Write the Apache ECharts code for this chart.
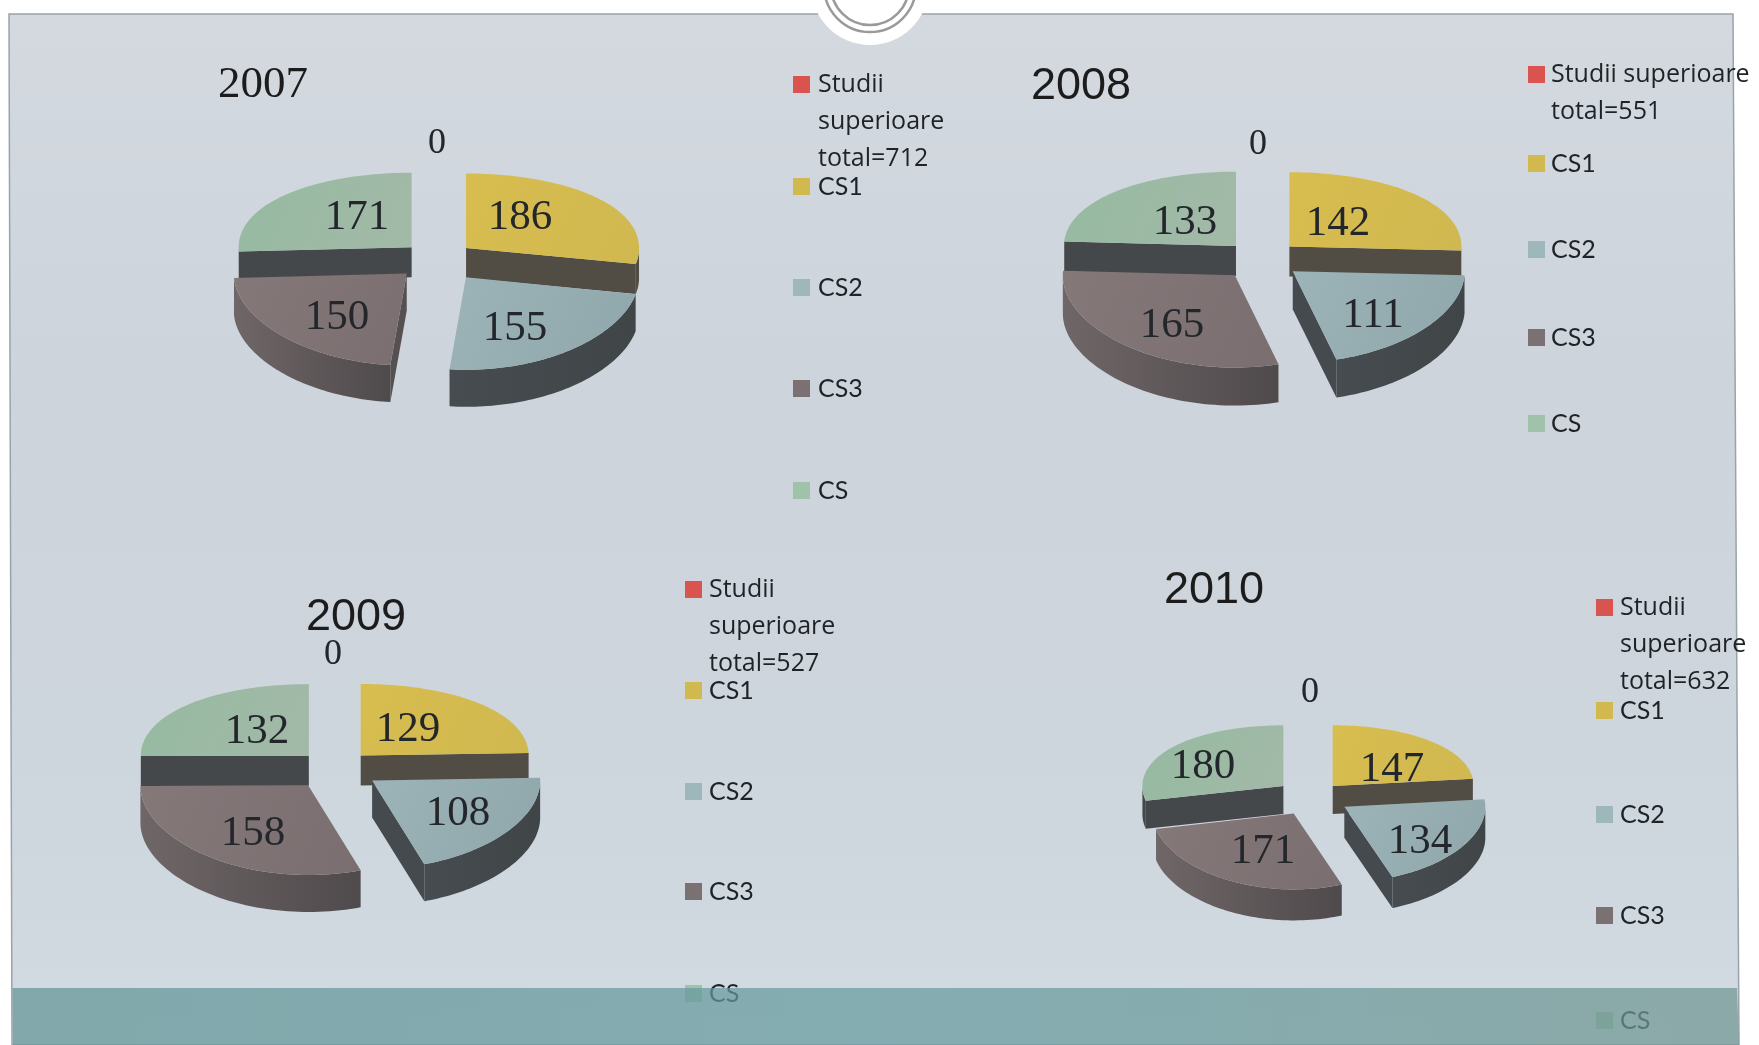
<!DOCTYPE html>
<html>
<head>
<meta charset="utf-8">
<script src="https://cdn.jsdelivr.net/npm/echarts@6/dist/echarts.min.js"></script>
<style>html,body{margin:0;padding:0;background:#fff}#c{width:1759px;height:1045px}</style>
</head>
<body>
<div id="c"></div>
<script>
// ---------- data ----------
const categories = ['Studii superioare', 'CS1', 'CS2', 'CS3', 'CS'];
const years = ['2007', '2008', '2009', '2010'];
const values2007 = [0, 186, 155, 150, 171];
const values2008 = [0, 142, 111, 165, 133];
const values2009 = [0, 129, 108, 158, 132];
const values2010 = [0, 147, 134, 171, 180];
const firstLegend2007 = 'Studii\nsuperioare\ntotal=712';
const firstLegend2008 = 'Studii superioare\ntotal=551';
const firstLegend2009 = 'Studii\nsuperioare\ntotal=527';
const firstLegend2010 = 'Studii\nsuperioare\ntotal=632';

// ---------- layout & style (no data in here) ----------
const allValues = [values2007, values2008, values2009, values2010];
const allFirstLegends = [firstLegend2007, firstLegend2008, firstLegend2009, firstLegend2010];
const pieLayout = [
  {cx:438, cy:259, rx:173, ry:83, dBack:30, dFront:37, explode:[0,.21,.27,.25,.21],
   labels:[[-1,-115],[82,-41],[77,70],[-101,59],[-81,-41]]},
  {cx:1262, cy:259, rx:172, ry:83, dBack:30, dFront:38, explode:[0,.22,.23,.25,.22],
   labels:[[-4,-114],[76,-35],[111,57],[-90,67],[-77,-36]]},
  {cx:335, cy:768, rx:168, ry:80, dBack:30, dFront:37, explode:[0,.22,.27,.27,.22],
   labels:[[-2,-113],[73,-38],[123,46],[-82,66],[-78,-36]]},
  {cx:1312, cy:797, rx:141, ry:68, dBack:28, dFront:31, explode:[0,.22,.27,.27,.26],
   labels:[[-2,-104],[80,-27],[108,45],[-49,55],[-109,-30]]}
];
const titleLayout = [
  {x:263, y:85, font:'"Liberation Serif"', size:45},
  {x:1081, y:87, font:'"Liberation Sans"', size:45},
  {x:356, y:618, font:'"Liberation Sans"', size:45},
  {x:1214, y:591, font:'"Liberation Sans"', size:45}
];
const legendLayout = [
  {sx:793, tx:818, ys:[84,186,287,388,490]},
  {sx:1528, tx:1551, ys:[74,163,249,337,423]},
  {sx:685, tx:709, ys:[589,690,791,891,993]},
  {sx:1596, tx:1620, ys:[607,710,814,915,1020]}
];
const persp = 0.08;
const swatch = ['#d9534f', '#d1b94f', '#9db7bb', '#7b7173', '#a0c2aa'];
const topFill = [null,
  ['#d8bd4f','#d0b850'],
  ['#9cb3b7','#8fa7ab'],
  ['#857879','#7a6e70'],
  ['#95baa0','#a3b9a8']];
const rimFill = [null, ['#524d44','#524d44'], ['#474c50','#404548'], ['#6f6667','#4f4a4c'], ['#45484a','#45484a']];
const cutFill = [null, '#524d44', '#454a4e', '#565051', '#45484a'];

function makeRenderItem(pieIndex) {
  const L = pieLayout[pieIndex];
  const vals = allValues[pieIndex];
  const total = vals.reduce(function (a, b) { return a + b; }, 0);
  function project(px, py, d) {
    return [L.cx + L.rx * px, L.cy + L.ry * py * (1 + persp * py) + (d || 0)];
  }
  return function (params, api) {
    const i = params.dataIndex;
    const v = api.value(0);
    let before = 0;
    for (let j = 0; j < i; j++) before += vals[j];
    const a0 = before / total * Math.PI * 2;
    const a1 = (before + v) / total * Math.PI * 2;
    const mid = (a0 + a1) / 2;
    const bx = Math.sin(mid), by = -Math.cos(mid);
    const ox = L.explode[i] * bx, oy = L.explode[i] * by;
    const order = Math.round((by + 1) * 50);
    const depth = by < 0 ? L.dBack : L.dFront;
    const label = {
      type: 'text', z2: 5000,
      style: {
        text: String(v), x: L.cx + L.labels[i][0], y: L.cy + L.labels[i][1],
        align: 'center', verticalAlign: 'middle',
        font: (i === 0 ? '36px' : '43px') + ' "Liberation Serif", serif', fill: '#23262a'
      }
    };
    if (v === 0) return {type: 'group', children: [label]};

    const children = [];
    const steps = 60;
    const arc = [];
    for (let s = 0; s <= steps; s++) {
      const a = a0 + (a1 - a0) * s / steps;
      arc.push([ox + Math.sin(a), oy - Math.cos(a), a]);
    }
    // radial cut walls
    [a0, a1].forEach(function (a, k) {
      const ex = Math.sin(a), ey = -Math.cos(a);
      const cross = ex * by - ey * bx;
      if ((ex >= 0 ? 1 : -1) * cross < 0) {
        const A = project(ox, oy), B = project(ox + ex, oy + ey);
        const B2 = project(ox + ex, oy + ey, depth), A2 = project(ox, oy, depth);
        children.push({type: 'polygon', z2: order * 10 + k,
          shape: {points: [A, B, B2, A2]}, style: {fill: cutFill[i]}});
      }
    });
    // outer rim, front half only
    const front = arc.filter(function (p) { return p[2] >= Math.PI / 2 && p[2] <= Math.PI * 1.5; });
    if (front.length > 1) {
      const up = front.map(function (p) { return project(p[0], p[1]); });
      const down = front.map(function (p) { return project(p[0], p[1], depth); }).reverse();
      children.push({type: 'polygon', z2: order * 10 + 2,
        shape: {points: up.concat(down)},
        style: {fill: new echarts.graphic.LinearGradient(0, 0, 1, 0, [
          {offset: 0, color: rimFill[i][0]}, {offset: 1, color: rimFill[i][1]}])}});
    }
    // top face
    const facePts = [project(ox, oy)].concat(arc.map(function (p) { return project(p[0], p[1]); }));
    children.push({type: 'polygon', z2: order * 10 + 3,
      shape: {points: facePts},
      style: {fill: new echarts.graphic.LinearGradient(0, 0, 1, 1, [
        {offset: 0, color: topFill[i][0]}, {offset: 1, color: topFill[i][1]}])}});
    children.push(label);
    return {type: 'group', children: children};
  };
}

const series = years.map(function (year, p) {
  return {
    type: 'custom', name: year, coordinateSystem: 'none', animation: false, silent: true,
    clip: false, z: 5,
    renderItem: makeRenderItem(p),
    data: categories.map(function (c, k) { return {name: c, value: [allValues[p][k]]}; })
  };
});

const titles = years.map(function (year, p) {
  const T = titleLayout[p];
  return {
    text: year, left: T.x, top: T.y - T.size * 0.58, textAlign: 'center', padding: 0,
    textStyle: {fontFamily: T.font, fontSize: T.size, fontWeight: 'normal', color: '#1c1c1c', lineHeight: T.size * 1.16}
  };
});

const graphicEls = [
  // slide panel
  {type: 'polygon', z: -20, silent: true, shape: {points: [[9,14],[1733,14],[1739,1045],[12,1045]]},
   style: {stroke: '#9aa3a8', lineWidth: 1.5,
     fill: new echarts.graphic.LinearGradient(0, 0, 0, 1, [
       {offset: 0, color: '#d3d9df'}, {offset: 0.35, color: '#ced4dc'},
       {offset: 0.7, color: '#cdd5dd'}, {offset: 1, color: '#d2dbe1'}])}},
  // ring tab at the top
  {type: 'circle', z: -15, silent: true, shape: {cx: 870, cy: -14, r: 59}, style: {fill: '#ffffff'}},
  {type: 'circle', z: -14, silent: true, shape: {cx: 870, cy: -14, r: 46}, style: {fill: 'none', stroke: '#9a9a9a', lineWidth: 2.5}},
  {type: 'circle', z: -14, silent: true, shape: {cx: 870, cy: -14, r: 39}, style: {fill: 'none', stroke: '#9a9a9a', lineWidth: 2.5}},
  // translucent band lies over the legends that reach it
  {type: 'polygon', z: 50, silent: true, shape: {points: [[12.5,988],[1737,988],[1739,1045],[13,1045]]},
   style: {fill: new echarts.graphic.LinearGradient(0, 0, 1, 0, [
     {offset: 0, color: 'rgba(98,148,150,0.72)'}, {offset: 0.5, color: 'rgba(102,155,160,0.72)'},
     {offset: 1, color: 'rgba(112,150,146,0.72)'}])}}
];
years.forEach(function (year, p) {
  const G = legendLayout[p];
  categories.forEach(function (c, k) {
    graphicEls.push({type: 'rect', z: 10, silent: true,
      shape: {x: G.sx, y: G.ys[k] - 8, width: 17, height: 17}, style: {fill: swatch[k]}});
    const txt = k === 0 ? allFirstLegends[p] : c;
    const font = k === 0 ? '25px "Open Sans", sans-serif' : '25px Lato, sans-serif';
    graphicEls.push({type: 'text', z: 10, silent: true, x: G.tx, y: G.ys[k] - 18,
      style: {text: txt, font: font, lineHeight: 37, fill: '#1f2326', align: 'left', verticalAlign: 'top'}});
  });
});

const chart = echarts.init(document.getElementById('c'), null, {renderer: 'canvas'});
chart.setOption({
  animation: false,
  backgroundColor: '#ffffff',
  title: titles,
  graphic: {elements: graphicEls},
  series: series
});
</script>
</body>
</html>
